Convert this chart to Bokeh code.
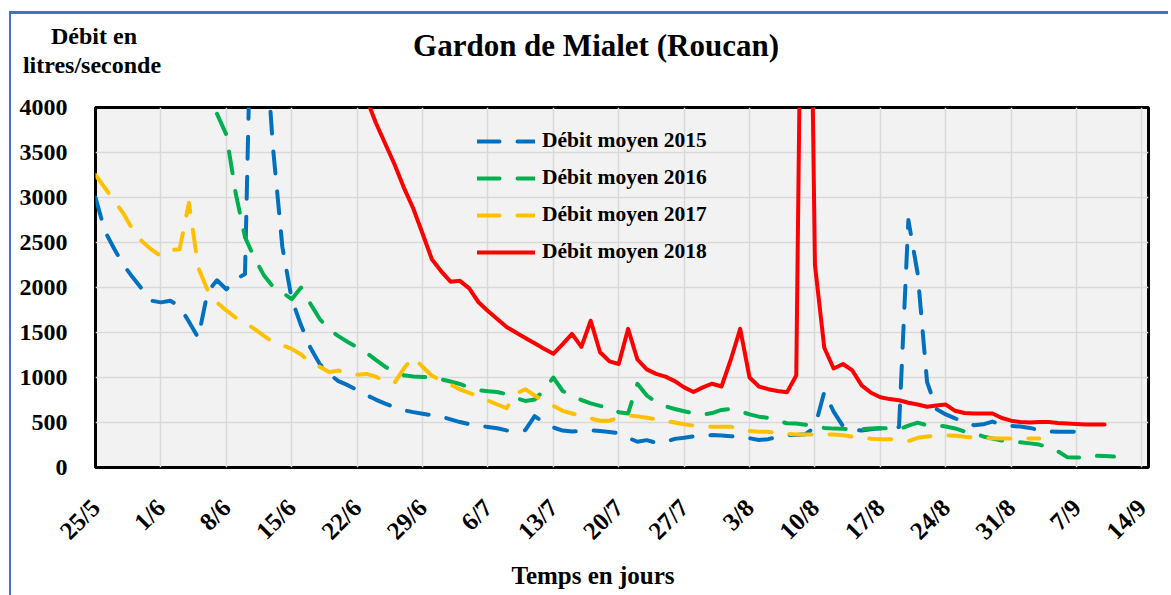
import math
from bokeh.plotting import figure
from bokeh.models import Range1d, FixedTicker, Legend, LegendItem, Div
from bokeh.layouts import column, row
from bokeh.embed import file_html
from bokeh.resources import INLINE

# ---------------- data ----------------
chart_title = "Gardon de Mialet (Roucan)"
y_title_lines = ["Débit en", "litres/seconde"]
x_title = "Temps en jours"

tick_days = [0, 7, 14, 21, 28, 35, 42, 49, 56, 63, 70, 77, 84, 91, 98, 105, 112]
tick_labels = ["25/5", "1/6", "8/6", "15/6", "22/6", "29/6", "6/7", "13/7", "20/7",
               "27/7", "3/8", "10/8", "17/8", "24/8", "31/8", "7/9", "14/9"]
y_ticks = [0, 500, 1000, 1500, 2000, 2500, 3000, 3500, 4000]

days_2015 = list(range(0, 106))
debit_2015 = [3000, 2627, 2430, 2250, 2110, 1980, 1853, 1835, 1853, 1790,
              1620, 1440, 1950, 2080, 1980, 2090, 2150, 6800, 5050, 3550,
              2450, 1871, 1580, 1330, 1150, 1040, 960, 915, 860, 805,
              755, 710, 672, 636, 615, 598, 580, 565, 535, 505,
              482, 465, 450, 436, 412, 405, 415, 570, 500, 445,
              410, 400, 405, 413, 405, 395, 380, 330, 286, 304,
              275, 285, 318, 330, 345, 358, 360, 355, 348, 340,
              325, 305, 315, 340, 360, 360, 370, 450, 840, 620,
              460, 420, 410, 424, 435, 420, 450, 2750, 2150, 950,
              650, 590, 545, 515, 470, 480, 510, 475, 462, 455,
              440, 415, 400, 397, 397, 397]

days_2016 = list(range(13, 110))
debit_2016 = [3930, 3700, 3050, 2560, 2330, 2140, 2010, 1945, 1870, 2000,
              1820, 1650, 1530, 1460, 1395, 1335, 1275, 1195, 1120, 1060,
              1025, 1012, 1005, 1005, 980, 955, 928, 890, 857, 848,
              839, 815, 770, 740, 755, 860, 1000, 850, 802, 750,
              712, 685, 665, 615, 600, 930, 800, 725, 680, 650,
              625, 602, 588, 605, 640, 652, 625, 590, 565, 550,
              520, 492, 489, 475, 455, 440, 432, 430, 427, 428,
              432, 435, 437, 426, 465, 498, 470, 470, 455, 434,
              400, 385, 345, 323, 300, 288, 280, 268, 255, 225,
              180, 115, 110, 115, 130, 127, 121]

days_2017 = list(range(0, 102))
debit_2017 = [3250, 3107, 2965, 2820, 2640, 2510, 2420, 2350, 2415, 2424,
              2940, 2220, 1970, 1835, 1745, 1665, 1612, 1540, 1465, 1392,
              1360, 1318, 1255, 1170, 1120, 1060, 1078, 1040, 1030, 1040,
              1010, 950, 940, 1100, 1226, 1120, 1020, 968, 920, 868,
              830, 790, 745, 700, 660, 820, 870, 800, 735, 685,
              630, 600, 570, 545, 520, 520, 555, 578, 568, 552,
              535, 518, 500, 480, 466, 458, 452, 452, 452, 430,
              405, 397, 396, 385, 375, 368, 367, 367, 367, 367,
              358, 342, 332, 320, 315, 315, 310, 293, 330, 345,
              353, 358, 352, 341, 334, 328, 325, 323, 323, 323,
              323, 323]

days_2018 = list(range(29, 109))
debit_2018 = [4100, 3830, 3600, 3370, 3110, 2880, 2600, 2314, 2180, 2065,
              2074, 1990, 1835, 1740, 1650, 1560, 1500, 1440, 1380, 1320,
              1263, 1370, 1484, 1340, 1631, 1280, 1180, 1150, 1540, 1200,
              1090, 1040, 1010, 960, 890, 839, 890, 931, 900, 1200,
              1540, 1000, 900, 870, 850, 835, 1023, 10000, 2250, 1330,
              1100, 1150, 1078, 913, 830, 780, 760, 747, 720, 700,
              675, 690, 699, 630, 605, 600, 600, 600, 550, 520,
              505, 500, 505, 505, 495, 488, 482, 478, 478, 478]

series_names = ["Débit moyen 2015", "Débit moyen 2016", "Débit moyen 2017", "Débit moyen 2018"]

# ---------------- layout constants ----------------
FONT = "Liberation Serif"
BORDER_BLUE = "#4472C4"
TOTAL_W = 1168
STRIP_W = 11
MAIN_W = TOTAL_W - STRIP_W
TOP_H = 95
FIG_H = 462
FOOT_H = 37
TOTAL_H = TOP_H + FIG_H + FOOT_H

# ---------------- figure ----------------
p = figure(width=MAIN_W, height=FIG_H,
           x_range=Range1d(0, 112.7), y_range=Range1d(0, 4000),
           output_backend="svg", toolbar_location=None,
           min_border_left=84, min_border_right=20,
           min_border_top=12, min_border_bottom=89,
           background_fill_color="#f2f2f2", border_fill_color="white",
           outline_line_color="black", outline_line_width=3, margin=0)

p.xaxis.ticker = FixedTicker(ticks=tick_days)
p.xaxis.major_label_overrides = {d: l for d, l in zip(tick_days, tick_labels)}
p.xaxis.major_label_orientation = math.pi / 4
p.yaxis.ticker = FixedTicker(ticks=y_ticks)
for ax in (p.xaxis[0], p.yaxis[0]):
    ax.axis_line_color = None
    ax.major_tick_line_color = None
    ax.minor_tick_line_color = None
    ax.major_label_text_font = FONT
    ax.major_label_text_font_style = "bold"
    ax.major_label_text_color = "black"
p.xaxis.major_label_text_font_size = "25px"
p.yaxis.major_label_text_font_size = "24px"
p.xaxis.major_label_standoff = 30
p.yaxis.major_label_standoff = 22

p.xgrid.ticker = FixedTicker(ticks=tick_days)
p.ygrid.ticker = FixedTicker(ticks=y_ticks)
p.grid.grid_line_color = "#d9d9d9"
p.grid.grid_line_width = 1.5

r15 = p.line(days_2015, debit_2015, line_color="#0070C0", line_width=4,
             line_dash="22 18", line_cap="round", line_join="round")
r16 = p.line(days_2016, debit_2016, line_color="#00B050", line_width=4,
             line_dash="22 18", line_cap="round", line_join="round")
r17 = p.line(days_2017, debit_2017, line_color="#FFC000", line_width=4,
             line_dash="22 18", line_cap="round", line_join="round")
r18 = p.line(days_2018, debit_2018, line_color="#FF0000", line_width=4,
             line_cap="round", line_join="round")

legend = Legend(items=[LegendItem(label=n, renderers=[r]) for n, r in
                       zip(series_names, [r15, r16, r17, r18])],
                location=(382, 203),
                glyph_width=58, glyph_height=24, label_height=24,
                label_standoff=7, spacing=12, padding=0, margin=0,
                border_line_color=None, background_fill_alpha=0,
                label_text_font=FONT, label_text_font_style="bold",
                label_text_font_size="21.5px", label_text_color="black")
p.add_layout(legend)

# ---------------- header / footer texts and outer border ----------------
def text_block(txt, cx, top, size, lh, w):
    return (f'<div style="position:absolute;left:{cx - w // 2}px;top:{top}px;width:{w}px;'
            f'text-align:center;font-size:{size}px;line-height:{lh}px;white-space:nowrap;">{txt}</div>')

def box(inner, w, h):
    return (f'<div style="position:relative;width:{w}px;height:{h}px;overflow:hidden;'
            f'font-family:\'{FONT}\';font-weight:bold;color:black;">{inner}</div>')

header_html = box(
    f'<div style="position:absolute;left:0px;top:11px;width:{MAIN_W}px;height:2.5px;background:{BORDER_BLUE};"></div>'
    + text_block(y_title_lines[0], 83, 22, 24, 28, 160)
    + text_block(y_title_lines[1], 81, 51, 24, 28, 160)
    + text_block(chart_title, 585, 28, 31, 36, 800),
    MAIN_W, TOP_H)
header = Div(text=header_html, width=MAIN_W, height=TOP_H, margin=0)

footer_html = box(text_block(x_title, 582, 4, 25, 30, 400), MAIN_W, FOOT_H)
footer = Div(text=footer_html, width=MAIN_W, height=FOOT_H, margin=0)

strip_html = (f'<div style="position:relative;width:{STRIP_W}px;height:{TOTAL_H}px;">'
              f'<div style="position:absolute;left:8.5px;top:11px;width:2.5px;height:{TOTAL_H}px;'
              f'background:{BORDER_BLUE};"></div></div>')
strip = Div(text=strip_html, width=STRIP_W, height=TOTAL_H, margin=0)

layout = row(strip, column(header, p, footer, spacing=0, margin=0), spacing=0, margin=0)

open("out.html", "w").write(file_html(layout, INLINE))
